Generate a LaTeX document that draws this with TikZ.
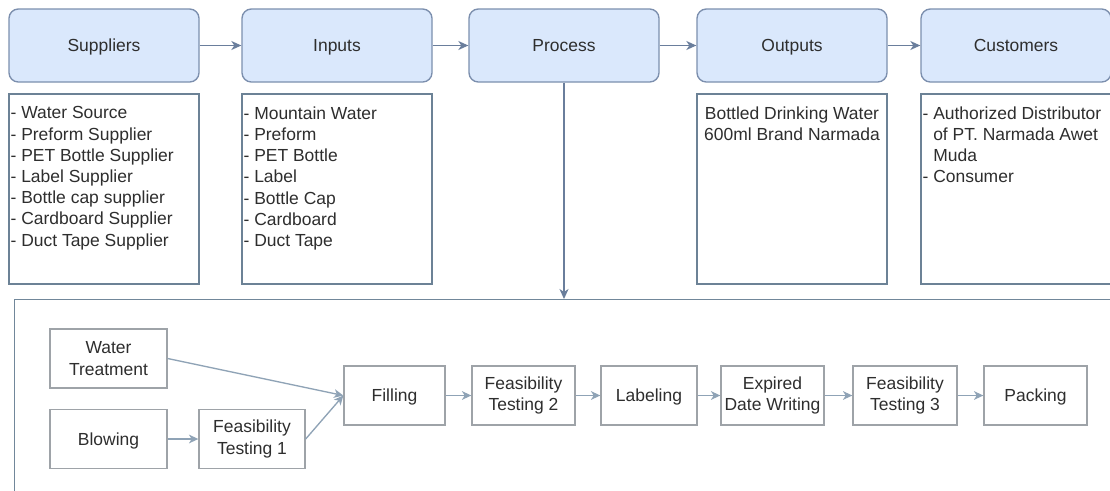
\documentclass[tikz,border=0pt]{standalone}
\usepackage{fontspec}
\setmainfont{Liberation Sans}
\usetikzlibrary{arrows.meta}

\definecolor{hdrfill}{HTML}{DAE8FC}
\definecolor{hdrline}{HTML}{7C8FAE}
\definecolor{listline}{HTML}{6C8296}
\definecolor{stepline}{HTML}{9EA3A8}
\definecolor{frameline}{HTML}{71879A}
\definecolor{flowarrow}{HTML}{6A7E9C}
\definecolor{steparrow}{HTML}{8FA3B6}
\definecolor{ink}{HTML}{2E2E2E}

\begin{document}
\begin{tikzpicture}[x=0.75pt,y=-0.75pt,
  font=\fontsize{13.1}{15.9}\selectfont, text=ink,
  oneline/.style={text height=9.4pt, text depth=0pt},
  header/.style={draw=hdrline, fill=hdrfill, rounded corners=7pt, line width=1pt,
    minimum width=142.5pt, minimum height=54.75pt, inner sep=0pt, oneline},
  listbox/.style={draw=listline, line width=1pt, minimum width=142.5pt,
    minimum height=142.5pt, inner sep=0pt},
  listtext/.style={inner sep=0pt, align=left, anchor=north west},
  stepbox/.style={draw=stepline, line width=1pt, minimum height=44.25pt,
    inner sep=0pt, align=center},
  flow/.style={draw=flowarrow, line width=1pt,
    -{Stealth[length=7.5pt,width=6.75pt,inset=2.2pt]}},
  stepflow/.style={draw=steparrow, line width=1pt,
    -{Stealth[length=7pt,width=6.5pt,inset=2pt]}}
]
% canvas
\clip (0,0) rectangle (1110,490);
\fill[white] (0,0) rectangle (1110,490);

% SIPOC headers
\node[header] (sup)  at (104,45.5)  {Suppliers};
\node[header] (inp)  at (337,45.5)  {Inputs};
\node[header] (proc) at (564,45.5)  {Process};
\node[header] (out)  at (792,45.5)  {Outputs};
\node[header] (cus)  at (1016,45.5) {Customers};

\draw[flow] (sup) -- (inp);
\draw[flow] (inp) -- (proc);
\draw[flow] (proc) -- (out);
\draw[flow] (out) -- (cus);

% detail boxes under the headers
\node[listbox] (supl) at (104,189) {};
\node[listbox] (inpl) at (337,189) {};
\node[listbox] (outl) at (792,189) {};
\node[listbox] (cusl) at (1016,189) {};

\node[listtext] (supt) at ([shift={(2,13)}]supl.north west)
  {- Water Source\\- Preform Supplier\\- PET Bottle Supplier\\- Label Supplier\\%
   - Bottle cap supplier\\- Cardboard Supplier\\- Duct Tape Supplier};
\node[listtext] (inpt) at ([shift={(2,13)}]inpl.north west)
  {- Mountain Water\\- Preform\\- PET Bottle\\- Label\\- Bottle Cap\\%
   - Cardboard\\- Duct Tape};
\node[inner sep=0pt, align=center, anchor=north] (outt) at ([shift={(0,13)}]outl.north)
  {Bottled Drinking Water\\600ml Brand Narmada};
\node[listtext] (cust) at ([shift={(2,13)}]cusl.north west)
  {- Authorized Distributor\\\phantom{- }of PT. Narmada Awet\\\phantom{- }Muda\\- Consumer};

% process detail frame
\node[draw=frameline, line width=1.1pt, anchor=north west, inner sep=0pt,
  minimum width=840pt, minimum height=160pt] (frame) at (14,299) {};
\draw[flow] (proc.south) -- (proc.south |- frame.north);

% production steps
\node[stepbox, minimum width=87.75pt] (wt)   at (108.5,358.5) {Water\\Treatment};
\node[stepbox, oneline, minimum width=87.75pt] (blow) at (108.5,439) {Blowing};
\node[stepbox, minimum width=79.5pt]  (ft1)  at (252,439)     {Feasibility\\Testing 1};
\node[stepbox, oneline, minimum width=75.75pt] (fill) at (394.5,395.5) {Filling};
\node[stepbox, minimum width=77.25pt] (ft2)  at (523.5,395.5) {Feasibility\\Testing 2};
\node[stepbox, oneline, minimum width=72pt] (lab) at (649,395.5) {Labeling};
\node[stepbox, minimum width=77.25pt] (exp)  at (772.5,395.5) {Expired\\Date Writing};
\node[stepbox, minimum width=78pt]    (ft3)  at (905,395.5)   {Feasibility\\Testing 3};
\node[stepbox, oneline, minimum width=77.25pt] (pack) at (1035.5,395.5) {Packing};

\draw[stepflow] (wt.east) -- (fill.west);
\draw[stepflow] (blow) -- (ft1);
\draw[stepflow] (ft1.east) -- (fill.west);
\draw[stepflow] (fill) -- (ft2);
\draw[stepflow] (ft2) -- (lab);
\draw[stepflow] (lab) -- (exp);
\draw[stepflow] (exp) -- (ft3);
\draw[stepflow] (ft3) -- (pack);
\end{tikzpicture}
\end{document}
